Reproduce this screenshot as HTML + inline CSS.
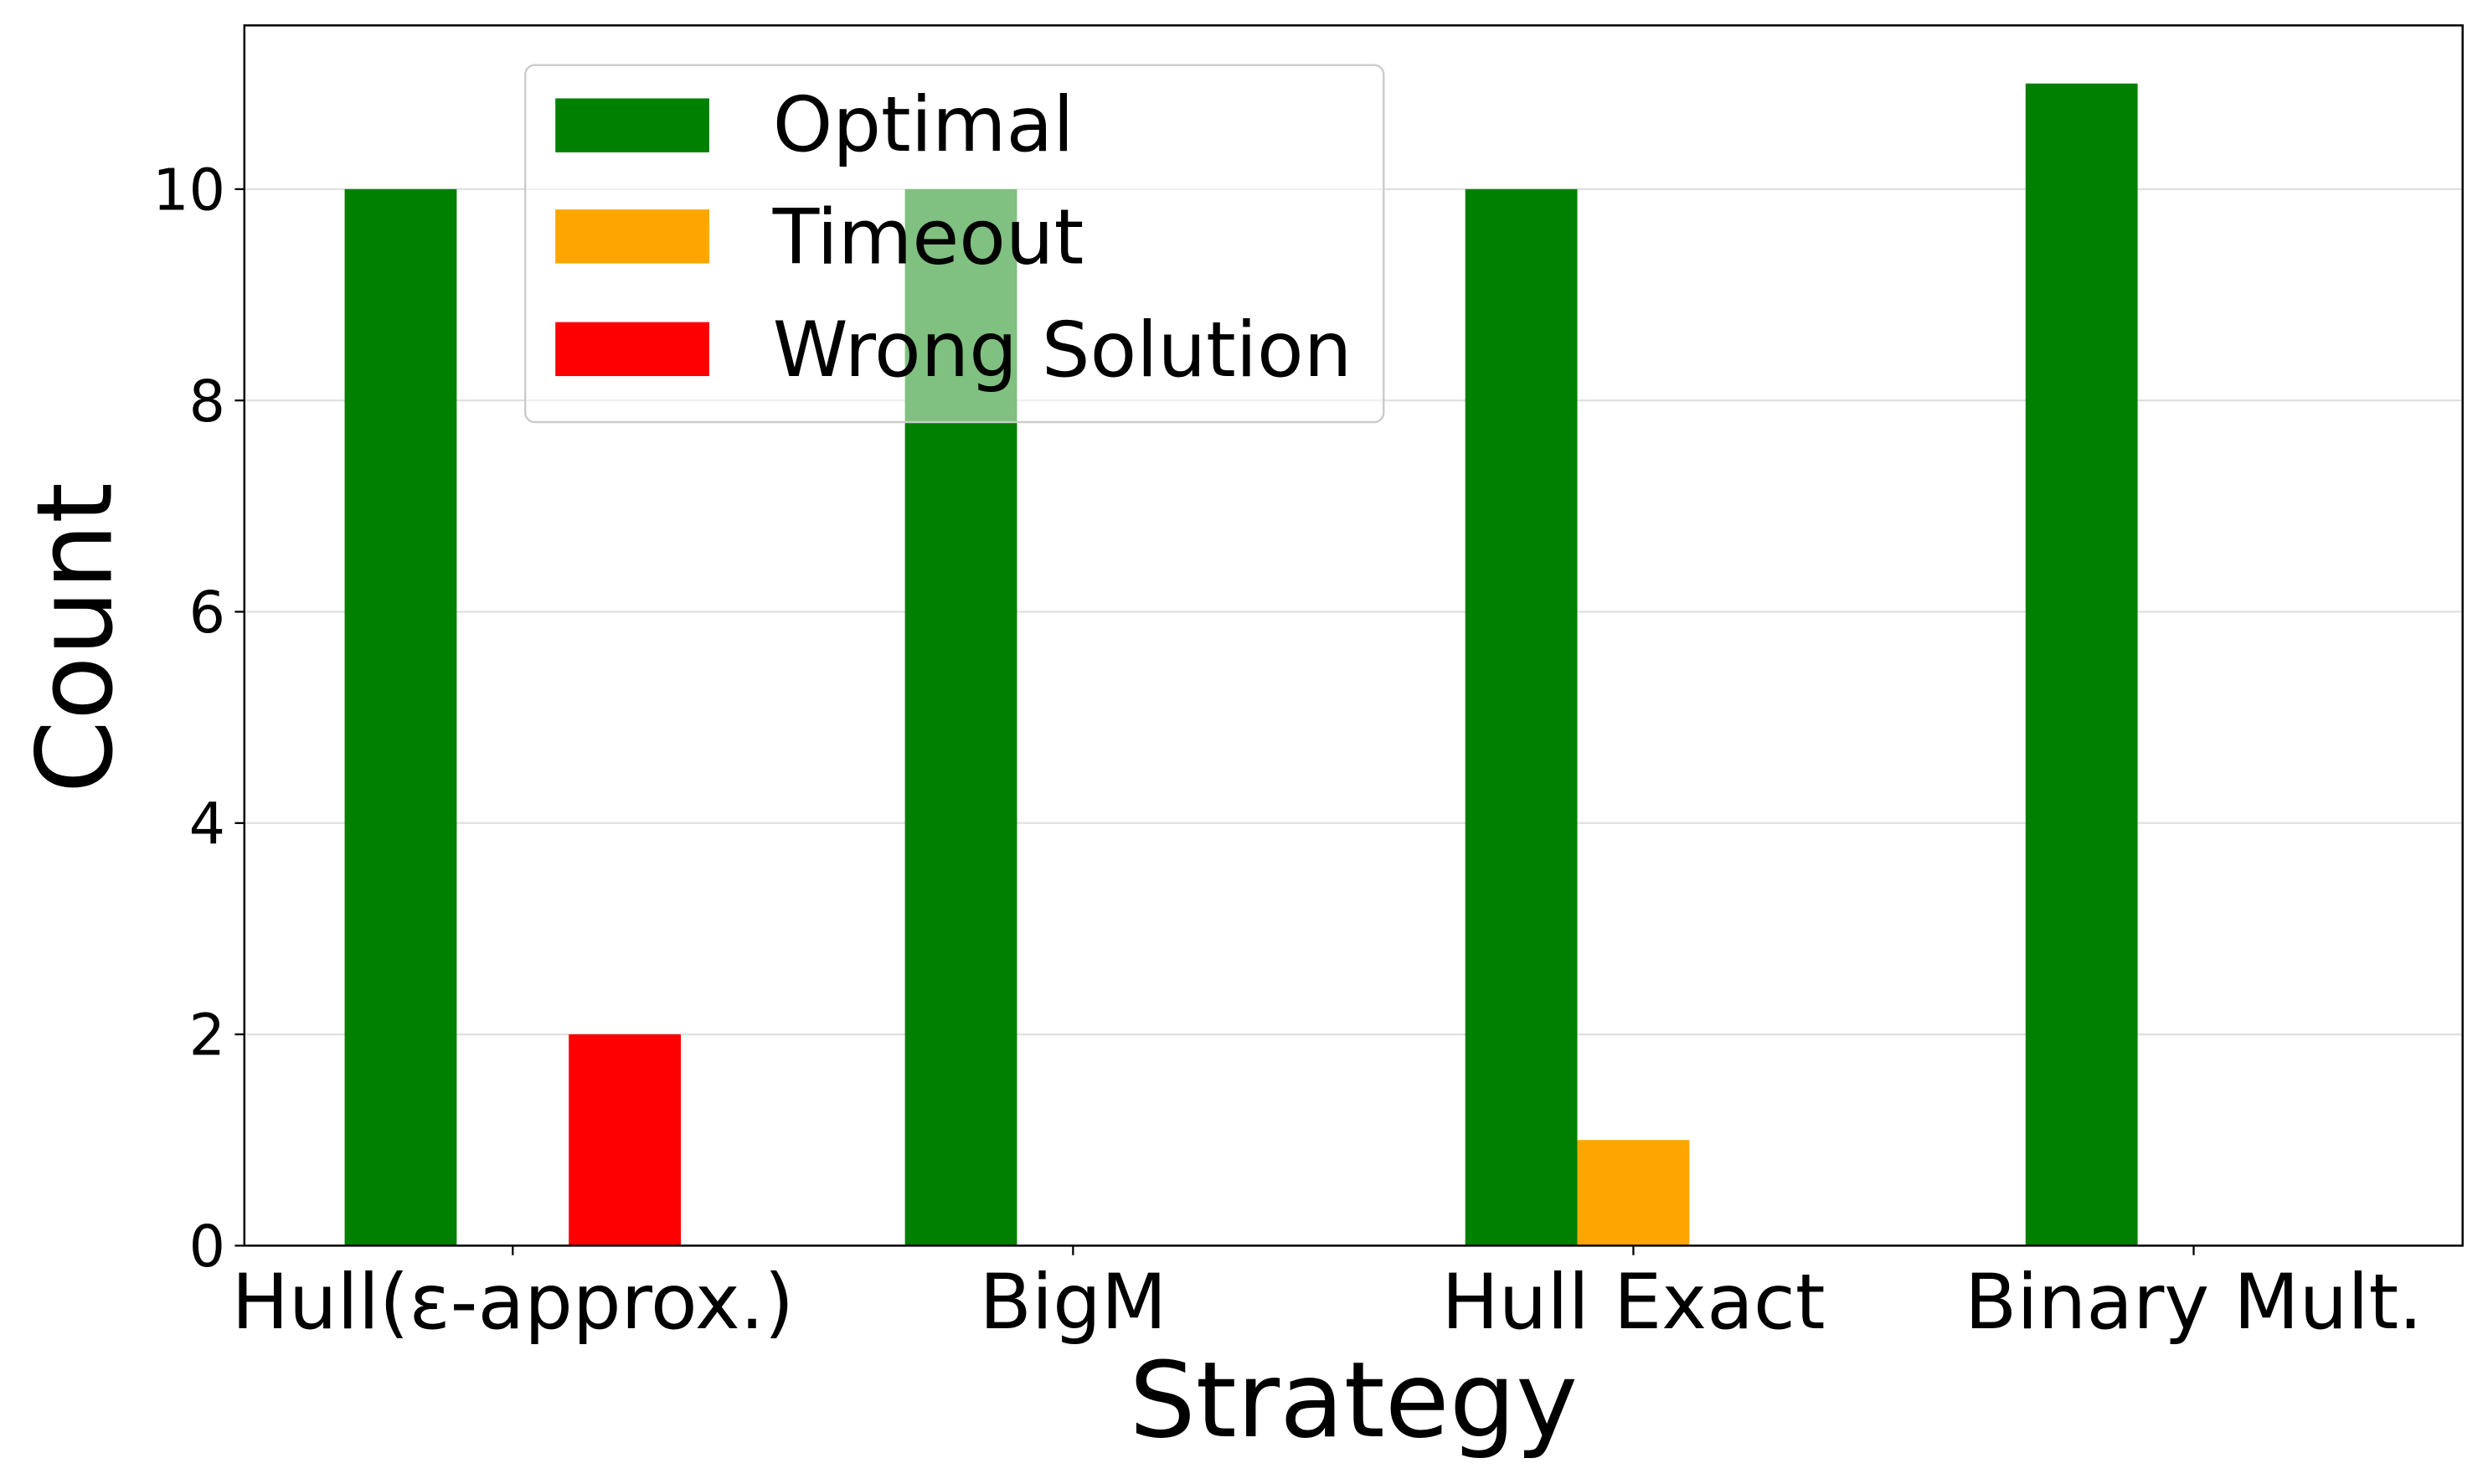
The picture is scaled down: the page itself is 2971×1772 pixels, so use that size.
<!DOCTYPE html>
<html><head><meta charset="utf-8"><style>
html,body{margin:0;padding:0;background:#fff;}
svg{display:block;font-family:"DejaVu Sans","Liberation Sans",sans-serif;}
</style></head><body>
<svg id="chart" width="2971" height="1772" viewBox="0 0 1568 935.2" xmlns="http://www.w3.org/2000/svg">
<g id="grid"></g>
<g id="bars"></g>
<rect x="154" y="16" width="1398" height="769" fill="none" stroke="#000" stroke-width="1.3"/>
<g id="ticks"></g>
<text x="853" y="905" font-size="66" text-anchor="middle">Strategy</text>
<text transform="translate(70,402) rotate(-90)" font-size="66" text-anchor="middle">Count</text>
<g>
<rect x="331" y="41" width="541" height="225" rx="6" fill="#fff" fill-opacity="0.5" stroke="#ccc" stroke-width="1.3"/>
<rect x="350" y="62" width="97" height="34" fill="#008000"/>
<text x="487" y="95" font-size="48">Optimal</text>
<rect x="350" y="132" width="97" height="34" fill="#ffa500"/>
<text x="487" y="166" font-size="48">Timeout</text>
<rect x="350" y="203" width="97" height="34" fill="#ff0000"/>
<text x="487" y="237" font-size="48">Wrong Solution</text>
</g>
</svg>
<script>
const categories = ["Hull(ε-approx.)", "BigM", "Hull Exact", "Binary Mult."];
const optimal = [10, 10, 10, 11];
const timeout = [0, 0, 1, 0];
const wrong = [2, 0, 0, 0];
const yTicks = [0, 2, 4, 6, 8, 10];

const NS = "http://www.w3.org/2000/svg";
const L = 154, R = 1552, T = 16, B = 785;
const xMin = -0.479, xMax = 3.48, yMax = 11.55;
const xs = v => L + (v - xMin) / (xMax - xMin) * (R - L);
const ys = v => B - v / yMax * (B - T);
const bw = 0.2;
function mk(tag, attrs, parent) { const e = document.createElementNS(NS, tag); for (const k in attrs) e.setAttribute(k, attrs[k]); parent.appendChild(e); return e; }
const grid = document.getElementById('grid'), bars = document.getElementById('bars'), ticks = document.getElementById('ticks');
yTicks.forEach(t => {
  const g = mk('line', {x1: L, x2: R, y1: ys(t), y2: ys(t), stroke: '#e0e0e0', 'stroke-width': 1.2}, grid);
  
  
  const tk = mk('line', {x1: L - 6, x2: L, y1: ys(t), y2: ys(t), stroke: '#000', 'stroke-width': 1.2}, ticks);
  
  
  const lb = mk('text', {x: L - 12, y: ys(t) + 13, 'font-size': 36, 'text-anchor': 'end'}, ticks);
  lb.textContent = t;
  
  
});
const series = [[optimal, '#008000', -1, 'optimal'], [timeout, '#ffa500', 0, 'timeout'], [wrong, '#ff0000', 1, 'wrong']];
categories.forEach((c, i) => {
  series.forEach(([arr, col, off, nm]) => {
    const v = arr[i];
    if (v <= 0) return;
    const x0 = xs(i + off * bw - bw / 2), x1 = xs(i + off * bw + bw / 2);
    const r = mk('rect', {x: x0, y: ys(v), width: x1 - x0, height: ys(0) - ys(v), fill: col}, bars);
    
    
  });
  const tk = mk('line', {x1: xs(i), x2: xs(i), y1: B, y2: B + 6, stroke: '#000', 'stroke-width': 1.2}, ticks);
  
  
  const lb = mk('text', {x: xs(i), y: B + 52, 'font-size': 48, 'text-anchor': 'middle'}, ticks);
  lb.textContent = c;
  
  
});
</script>
</body></html>
